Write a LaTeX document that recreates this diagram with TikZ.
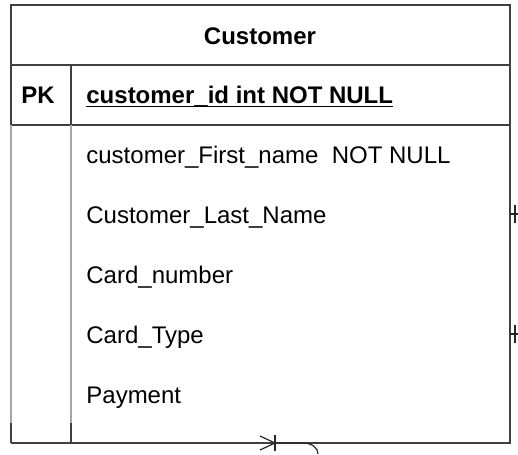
\documentclass[tikz,border=0pt]{standalone}
\usepackage{fontspec}
\setmainfont{Liberation Sans}
\begin{document}
\begin{tikzpicture}[x=0.5pt,y=-0.5pt,
    frame/.style={line width=1.1pt, draw=black!75},
    faint/.style={line width=0.9pt, draw=black!35},
    stub/.style={line width=0.6pt, draw=black!85},
    field/.style={anchor=base west, inner sep=0pt, font=\fontsize{12}{14}\selectfont},
    keyfield/.style={field, font=\fontsize{12}{14}\selectfont\bfseries}]
    \useasboundingbox (0,0) rectangle (518,454);

    % Drawing header box and key row
    \draw [frame] (11,5) rectangle (510,65);%
    \draw [frame] (11,65) rectangle (510,125);%
    \draw [frame] (71,65) -- (71,125);%

    % Drawing body of the table
    \draw [frame] (510,125) -- (510,443) -- (11,443);%
    \draw [faint] (11,125) -- (11,423);%
    \draw [faint] (71,125) -- (71,423);%
    \draw [frame] (11,423) -- (11,443);%
    \draw [frame] (71,423) -- (71,443);%

    % Header and key
    \node (title) at (260,45) [anchor=base, inner sep=0pt, font=\fontsize{12}{14}\selectfont\bfseries] {Customer};%
    \node (pk) at (38,104) [anchor=base, inner sep=0pt, font=\fontsize{12}{14}\selectfont\bfseries] {PK};%
    \node (custid) at (86,104) [keyfield] {customer\_id int NOT NULL};%
    \draw [line width=0.7pt] ([yshift=-1.3pt]custid.base west) -- ([yshift=-1.3pt]custid.base east);%

    % Fields
    \node (firstname) at (86,163) [field] {customer\_First\_name\ \ NOT NULL};%
    \node (lastname) at (86,223) [field] {Customer\_Last\_Name};%
    \node (cardnumber) at (86,283) [field] {Card\_number};%
    \node (cardtype) at (86,343) [field] {Card\_Type};%
    \node (payment) at (86,403) [field] {Payment};%

    % Marking one-ends on the right side
    \coordinate (lastnameend) at (510,214);%
    \coordinate (lastnamecut) at (518,214);%
    \draw [stub] (lastnameend) -- (lastnamecut);%
    \draw [stub] (515,205) -- (515,223);%

    \coordinate (cardtypeend) at (510,334);%
    \coordinate (cardtypecut) at (518,334);%
    \draw [stub] (cardtypeend) -- (cardtypecut);%
    \draw [stub] (515,325) -- (515,343);%

    % Marking many-end below the table
    \coordinate (footend) at (275,443);%
    \coordinate (bendstart) at (303,443);%
    \coordinate (bendcut) at (318,454);%
    \draw [stub] (260,436) -- (footend);%
    \draw [stub] (260,450) -- (footend);%
    \draw [stub] (275,435) -- (275,451);%
    \draw [stub] (footend) -- (bendstart) .. controls (312,443) and (318,448) .. (bendcut);%
\end{tikzpicture}
\end{document}
